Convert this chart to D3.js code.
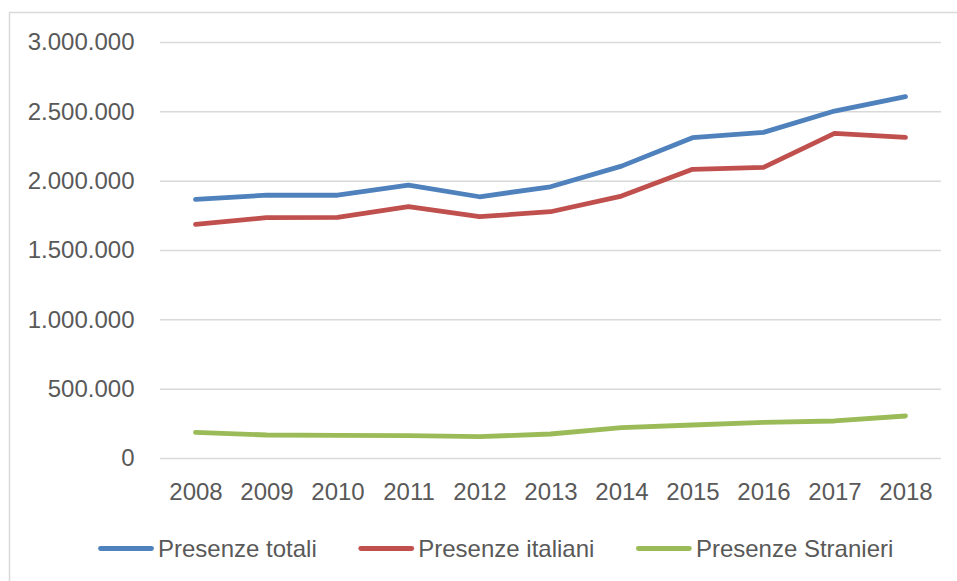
<!DOCTYPE html>
<html>
<head>
<meta charset="utf-8">
<script src="https://cdn.jsdelivr.net/npm/d3@7"></script>
<style>
  body { margin: 0; background: #fff; }
  svg { display: block; font-family: "Liberation Sans", Arial, sans-serif; }
</style>
</head>
<body>
<svg width="957" height="581"></svg>
<script>
// Anni e presenze
const years = ["2008", "2009", "2010", "2011", "2012", "2013", "2014", "2015", "2016", "2017", "2018"];
const totali = [1865000, 1895000, 1895000, 1968000, 1884000, 1956000, 2105000, 2310000, 2348000, 2502000, 2606000];
const italiani = [1685000, 1733000, 1736000, 1812000, 1740000, 1776000, 1889000, 2082000, 2096000, 2341000, 2312000];
const stranieri = [185000, 166000, 163000, 161000, 154000, 173000, 219000, 238000, 257000, 267000, 303000];
const yTicks = [0, 500000, 1000000, 1500000, 2000000, 2500000, 3000000];

const series = [
  {name: "Presenze totali", values: totali, color: "#4f81bd"},
  {name: "Presenze italiani", values: italiani, color: "#c0504d"},
  {name: "Presenze Stranieri", values: stranieri, color: "#9bbb59"}
];

const svg = d3.select("svg");
const textColor = "#595959";
const gridColor = "#d9d9d9";

// chart frame (cut on the right / bottom like the original)
svg.append("rect")
  .attr("x", 9.5).attr("y", 12.5)
  .attr("width", 970).attr("height", 600)
  .attr("fill", "none")
  .attr("stroke", gridColor)
  .attr("stroke-width", 1.5);

const plot = {left: 160, right: 941, top: 42, bottom: 458};

const x = d3.scalePoint().domain(years).range([plot.left, plot.right]).padding(0.5);
const y = d3.scaleLinear().domain([0, 3000000]).range([plot.bottom, plot.top]);

const it = d3.formatLocale({decimal: ",", thousands: ".", grouping: [3], currency: ["", " €"]});
const fmt = it.format(",d");

// y axis with gridlines
const gy = svg.append("g")
  .attr("transform", `translate(${plot.left},0)`)
  .call(d3.axisLeft(y).tickValues(yTicks).tickFormat(fmt)
    .tickSize(-(plot.right - plot.left)).tickPadding(25.5));
gy.select(".domain").remove();
gy.selectAll(".tick line").attr("stroke", gridColor).attr("stroke-width", 1.5);
gy.selectAll(".tick text")
  .attr("fill", textColor)
  .style("font-size", "24px")
  .attr("dy", "0.33em");

// x axis labels
const gx = svg.append("g")
  .attr("transform", `translate(0,${plot.bottom})`)
  .call(d3.axisBottom(x).tickSize(0).tickPadding(25));
gx.select(".domain").remove();
gx.selectAll(".tick text")
  .attr("fill", textColor)
  .style("font-size", "24px");

// lines
const line = d3.line()
  .x((d, i) => x(years[i]))
  .y(d => y(d));

svg.selectAll("path.serie")
  .data(series)
  .join("path")
  .attr("class", "serie")
  .attr("fill", "none")
  .attr("stroke", d => d.color)
  .attr("stroke-width", 4.8)
  .attr("stroke-linejoin", "round")
  .attr("stroke-linecap", "round")
  .attr("d", d => line(d.values));

// legend
const legend = svg.append("g").attr("transform", "translate(98.5,548.5)");
let lx = 0;
series.forEach(s => {
  const g = legend.append("g").attr("transform", `translate(${lx},0)`);
  g.append("line")
    .attr("x1", 2).attr("x2", 53)
    .attr("stroke", s.color)
    .attr("stroke-width", 4.8)
    .attr("stroke-linecap", "round");
  const t = g.append("text")
    .attr("x", 59.5).attr("y", 8.3)
    .attr("fill", textColor)
    .style("font-size", "24px")
    .text(s.name);
  lx += 59.5 + t.node().getComputedTextLength() + 42;
});
</script>
</body>
</html>
